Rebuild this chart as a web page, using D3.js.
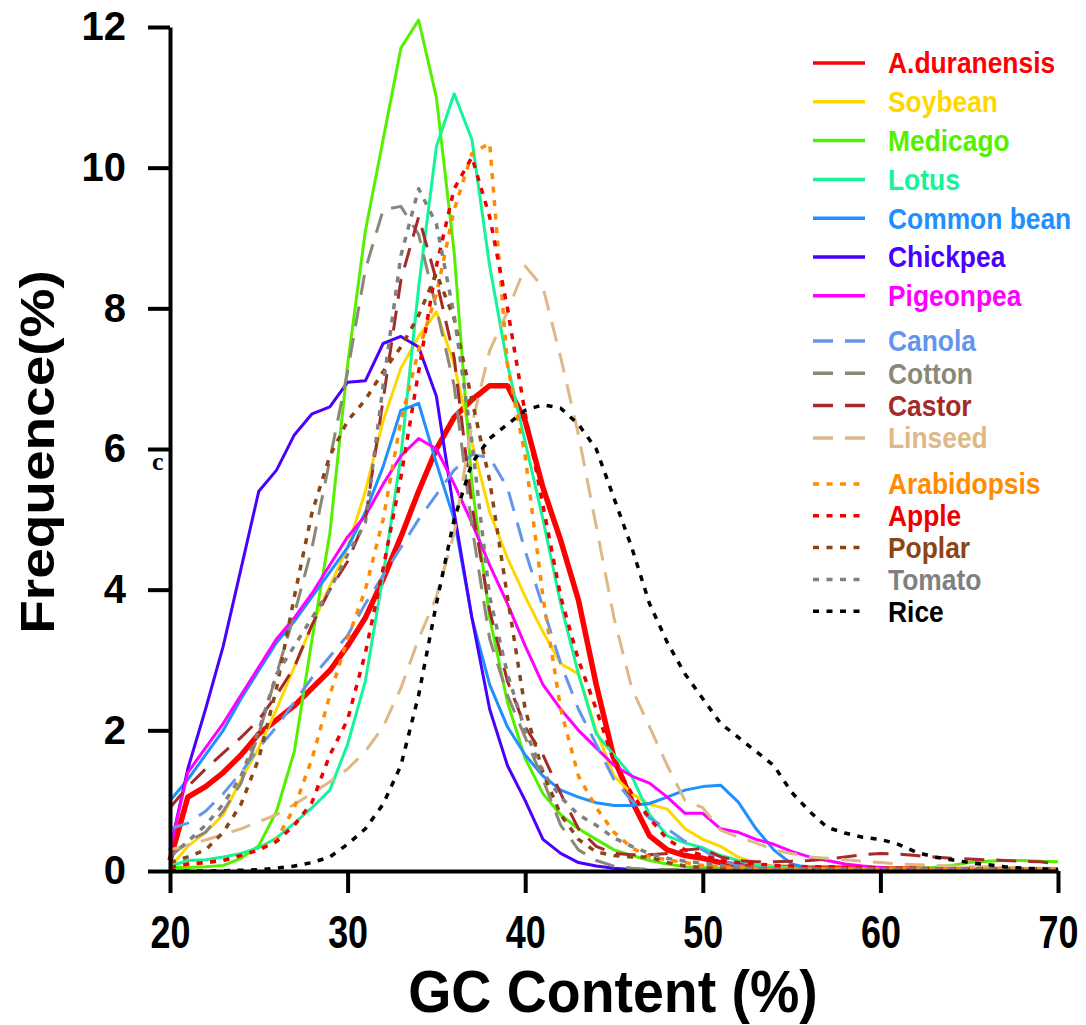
<!DOCTYPE html>
<html>
<head>
<meta charset="utf-8">
<script src="https://cdn.jsdelivr.net/npm/d3@7"></script>
<style>
  body { margin: 0; background: #fff; }
  text { font-family: "Liberation Sans", Arial, sans-serif; font-weight: bold; }
</style>
</head>
<body>
<svg id="chart" width="1086" height="1025"></svg>
<script>
// GC content bins, 1% wide
const gc = d3.range(20, 71);

const species = ["A.duranensis", "Soybean", "Medicago", "Lotus", "Common bean", "Chickpea", "Pigeonpea",
  "Canola", "Cotton", "Castor", "Linseed", "Arabidopsis", "Apple", "Poplar", "Tomato", "Rice"];

const aDuranensis = [0.15, 1.05, 1.2, 1.4, 1.65, 1.95, 2.15, 2.35, 2.6, 2.85, 3.2, 3.6, 4.15, 4.75, 5.4, 6.0, 6.45, 6.7, 6.9, 6.9,
  6.4, 5.45, 4.7, 3.85, 2.65, 1.6, 1.0, 0.5, 0.3, 0.22, 0.18, 0.12, 0.08, 0.06, 0.05, 0.05, 0.04, 0.04, 0.04, 0.03,
  0.03, 0.03, 0.03, 0.02, 0.02, 0.02, 0.02, 0.02, 0.01, 0.01, 0.01];
const soybean = [0.05, 0.35, 0.55, 0.8, 1.3, 1.75, 2.3, 2.9, 3.5, 4.05, 4.6, 5.4, 6.4, 7.15, 7.6, 7.95, 7.2, 6.1, 5.1, 4.45,
  3.9, 3.4, 2.95, 2.8, 2.0, 1.35, 1.1, 0.95, 0.88, 0.6, 0.45, 0.35, 0.2, 0.1, 0.06, 0.05, 0.04, 0.03, 0.03, 0.03,
  0.03, 0.03, 0.03, 0.03, 0.03, 0.03, 0.03, 0.03, 0.03, 0.03, 0.03];
const medicago = [0.05, 0.05, 0.06, 0.08, 0.18, 0.36, 0.85, 1.7, 3.3, 4.8, 7.2, 9.1, 10.4, 11.7, 12.1, 11.0, 8.8, 5.5, 3.6, 2.4,
  1.6, 1.1, 0.8, 0.6, 0.45, 0.3, 0.22, 0.15, 0.1, 0.06, 0.05, 0.04, 0.04, 0.04, 0.04, 0.04, 0.04, 0.04, 0.04, 0.04,
  0.04, 0.04, 0.04, 0.05, 0.08, 0.12, 0.14, 0.15, 0.15, 0.14, 0.13];
const lotus = [0.07, 0.15, 0.16, 0.2, 0.25, 0.33, 0.47, 0.68, 0.9, 1.15, 1.8, 2.7, 4.2, 5.9, 8.3, 10.3, 11.05, 10.4, 8.6, 7.2,
  6.1, 5.0, 3.8, 2.8, 1.95, 1.65, 1.35, 0.8, 0.5, 0.4, 0.33, 0.22, 0.15, 0.08, 0.05, 0.04, 0.03, 0.03, 0.03, 0.03,
  0.03, 0.03, 0.03, 0.03, 0.03, 0.03, 0.02, 0.02, 0.02, 0.02, 0.02];
const commonBean = [1.0, 1.3, 1.65, 2.0, 2.45, 2.85, 3.25, 3.55, 3.9, 4.25, 4.6, 5.1, 5.75, 6.55, 6.65, 5.8, 5.0, 3.6, 2.65, 2.05,
  1.65, 1.35, 1.15, 1.05, 0.97, 0.93, 0.93, 0.96, 1.05, 1.15, 1.2, 1.22, 0.98, 0.6, 0.3, 0.1, 0.04, 0.03, 0.02, 0.02,
  0.02, 0.02, 0.02, 0.02, 0.02, 0.02, 0.02, 0.02, 0.02, 0.02, 0.02];
const chickpea = [0.3, 1.45, 2.3, 3.2, 4.3, 5.4, 5.7, 6.2, 6.5, 6.6, 6.95, 6.97, 7.5, 7.6, 7.45, 6.75, 5.1, 3.6, 2.3, 1.5,
  1.0, 0.45, 0.25, 0.12, 0.07, 0.04, 0.02, 0.01, 0.01, 0.01, 0.01, 0.01, 0.01, 0.01, 0.01, 0.01, 0.01, 0.01, 0.01, 0.01,
  0.01, 0.01, 0.01, 0.01, 0.01, 0.01, 0.01, 0.01, 0.01, 0.01, 0.01];
const pigeonpea = [0.3, 1.4, 1.75, 2.1, 2.5, 2.9, 3.3, 3.6, 3.95, 4.35, 4.75, 5.05, 5.5, 5.9, 6.15, 6.0, 5.5, 4.95, 4.35, 3.8,
  3.2, 2.65, 2.3, 2.0, 1.75, 1.5, 1.35, 1.25, 1.05, 0.82, 0.82, 0.6, 0.55, 0.45, 0.38, 0.28, 0.2, 0.15, 0.1, 0.07,
  0.05, 0.03, 0.03, 0.03, 0.03, 0.03, 0.03, 0.03, 0.03, 0.03, 0.03];
const canola = [0.6, 0.68, 0.85, 1.1, 1.4, 1.75, 2.05, 2.4, 2.75, 3.05, 3.35, 3.8, 4.2, 4.6, 5.0, 5.35, 5.7, 5.92, 5.88, 5.45,
  4.55, 3.75, 2.95, 2.3, 1.8, 1.3, 1.0, 0.75, 0.6, 0.42, 0.3, 0.15, 0.08, 0.05, 0.03, 0.03, 0.03, 0.03, 0.03, 0.03,
  0.03, 0.03, 0.03, 0.03, 0.03, 0.03, 0.03, 0.03, 0.03, 0.03, 0.03];
const cotton = [0.2, 0.42, 0.55, 0.85, 1.25, 1.95, 2.8, 3.65, 4.6, 5.85, 7.1, 8.55, 9.4, 9.45, 9.05, 8.0, 6.9, 4.9, 3.3, 2.5,
  1.9, 1.3, 0.65, 0.3, 0.15, 0.07, 0.04, 0.02, 0.02, 0.02, 0.02, 0.02, 0.02, 0.02, 0.02, 0.02, 0.02, 0.02, 0.02, 0.02,
  0.02, 0.02, 0.02, 0.02, 0.02, 0.02, 0.02, 0.02, 0.02, 0.02, 0.02];
const castor = [0.9, 1.2, 1.45, 1.68, 1.9, 2.15, 2.5, 2.9, 3.5, 4.0, 4.4, 5.0, 6.7, 8.4, 9.3, 8.4, 7.3, 5.2, 3.7, 2.7,
  2.05, 1.65, 1.1, 0.6, 0.35, 0.25, 0.23, 0.23, 0.25, 0.3, 0.32, 0.2, 0.15, 0.13, 0.13, 0.14, 0.15, 0.17, 0.2, 0.23,
  0.25, 0.24, 0.22, 0.2, 0.18, 0.17, 0.16, 0.15, 0.14, 0.13, 0.1];
const linseed = [0.3, 0.37, 0.44, 0.52, 0.6, 0.7, 0.8, 0.95, 1.1, 1.27, 1.45, 1.7, 2.05, 2.6, 3.3, 3.9, 4.8, 6.35, 7.4, 7.95,
  8.6, 8.3, 7.3, 6.2, 4.9, 3.6, 2.6, 2.05, 1.5, 1.0, 0.9, 0.58, 0.48, 0.4, 0.3, 0.25, 0.2, 0.18, 0.16, 0.14,
  0.12, 0.1, 0.09, 0.08, 0.07, 0.06, 0.06, 0.05, 0.05, 0.04, 0.04];
const arabidopsis = [0.05, 0.08, 0.12, 0.15, 0.22, 0.3, 0.45, 0.9, 1.6, 2.5, 3.3, 4.0, 5.0, 6.4, 7.4, 8.2, 9.4, 10.2, 10.35, 7.2,
  5.9, 3.9, 2.3, 1.35, 0.9, 0.55, 0.33, 0.2, 0.16, 0.12, 0.08, 0.06, 0.05, 0.03, 0.03, 0.03, 0.03, 0.03, 0.03, 0.03,
  0.03, 0.03, 0.03, 0.03, 0.03, 0.03, 0.03, 0.03, 0.03, 0.03, 0.03];
const apple = [0.05, 0.1, 0.12, 0.15, 0.22, 0.3, 0.42, 0.65, 0.98, 1.65, 2.15, 3.1, 4.3, 5.6, 7.1, 8.6, 9.7, 10.15, 9.3, 8.0,
  6.5, 5.2, 3.9, 3.0, 2.3, 1.55, 1.1, 0.75, 0.45, 0.3, 0.22, 0.15, 0.12, 0.1, 0.08, 0.07, 0.06, 0.06, 0.05, 0.05,
  0.04, 0.04, 0.04, 0.03, 0.03, 0.03, 0.03, 0.02, 0.02, 0.02, 0.02];
const poplar = [0.12, 0.2, 0.3, 0.55, 0.95, 1.6, 2.6, 3.9, 5.1, 5.9, 6.4, 6.7, 7.1, 7.45, 7.9, 8.5, 7.85, 6.7, 5.55, 3.9,
  2.3, 1.4, 0.8, 0.45, 0.27, 0.22, 0.2, 0.2, 0.12, 0.07, 0.05, 0.03, 0.03, 0.03, 0.03, 0.03, 0.03, 0.03, 0.03, 0.03,
  0.03, 0.03, 0.03, 0.03, 0.03, 0.03, 0.03, 0.03, 0.03, 0.03, 0.03];
const tomato = [0.2, 0.42, 0.65, 0.95, 1.35, 2.0, 2.8, 3.2, 3.6, 4.0, 4.5, 4.95, 6.9, 8.75, 9.7, 9.2, 7.9, 6.1, 3.9, 2.8,
  2.0, 1.4, 1.05, 0.8, 0.65, 0.47, 0.35, 0.25, 0.18, 0.14, 0.11, 0.08, 0.05, 0.03, 0.03, 0.03, 0.03, 0.03, 0.03, 0.03,
  0.03, 0.03, 0.03, 0.03, 0.03, 0.03, 0.03, 0.03, 0.03, 0.03, 0.03];
const rice = [0, 0, 0, 0.005, 0.01, 0.02, 0.04, 0.07, 0.12, 0.2, 0.38, 0.6, 0.95, 1.5, 2.5, 3.8, 5.0, 5.8, 6.15, 6.35,
  6.55, 6.63, 6.58, 6.35, 6.0, 5.3, 4.6, 3.8, 3.25, 2.8, 2.45, 2.1, 1.9, 1.7, 1.5, 1.12, 0.85, 0.62, 0.54, 0.48,
  0.45, 0.38, 0.27, 0.2, 0.16, 0.12, 0.09, 0.06, 0.04, 0.03, 0.02];

const seriesValues = [aDuranensis, soybean, medicago, lotus, commonBean, chickpea, pigeonpea,
  canola, cotton, castor, linseed, arabidopsis, apple, poplar, tomato, rice];

const colors = ["#ff0000", "#ffd700", "#55f000", "#14f59a", "#1e90ff", "#4a00ff", "#ff00ff",
  "#6495ed", "#8b8878", "#a52a2a", "#deb887", "#ff8c00", "#ee0000", "#8b4513", "#808080", "#000000"];
// 0 solid, 1 dashed, 2 dotted (also the legend block)
const lineKind = [0, 0, 0, 0, 0, 0, 0, 1, 1, 1, 1, 2, 2, 2, 2, 2];

const xTicks = [20, 30, 40, 50, 60, 70];
const yTicks = [0, 2, 4, 6, 8, 10, 12];

const svg = d3.select("#chart");
svg.append("rect").attr("width", 1086).attr("height", 1025).attr("fill", "#fff");

const x = d3.scaleLinear().domain([20, 70]).range([170, 1058]);
const y = d3.scaleLinear().domain([0, 12]).range([871, 27]);

const dashes = [null, "20,12", "6,7.5"];
const widths = [3, 3, 3.5];

const line = d3.line().x((d, i) => x(gc[i])).y(d => y(d));

svg.append("g").selectAll("path")
  .data(seriesValues)
  .join("path")
  .attr("d", line)
  .attr("fill", "none")
  .attr("stroke", (d, i) => colors[i])
  .attr("stroke-width", (d, i) => i === 0 ? 5.5 : widths[lineKind[i]])
  .attr("stroke-dasharray", (d, i) => dashes[lineKind[i]])
  .attr("stroke-linejoin", "round");

// axes
const xAxis = svg.append("g")
  .attr("transform", "translate(0,871)")
  .call(d3.axisBottom(x).tickValues(xTicks).tickSize(22).tickSizeOuter(0).tickPadding(22));
const yAxis = svg.append("g")
  .attr("transform", "translate(170,0)")
  .call(d3.axisLeft(y).tickValues(yTicks).tickSize(22).tickSizeOuter(0).tickPadding(22));

[xAxis, yAxis].forEach(a => {
  a.select(".domain").attr("stroke", "#000").attr("stroke-width", 4);
  a.selectAll(".tick line").attr("stroke", "#000").attr("stroke-width", 4);
  a.selectAll(".tick text").attr("fill", "#000");
});
xAxis.selectAll(".tick text")
  .style("font-size", "46px")
  .attr("transform", "scale(0.78,1)");
yAxis.selectAll(".tick text")
  .style("font-size", "40px");

// stray glyph left of the axis in the original
svg.append("text")
  .attr("x", 152).attr("y", 470)
  .style("font-family", "'Liberation Serif', serif")
  .style("font-size", "26px")
  .text("c");

// axis titles
svg.append("text")
  .attr("transform", "translate(613,1012) scale(0.94,1)")
  .attr("text-anchor", "middle")
  .style("font-size", "59px")
  .text("GC Content (%)");
svg.append("text")
  .attr("transform", "translate(54,452) rotate(-90) scale(1,0.88)")
  .attr("text-anchor", "middle")
  .style("font-size", "55px")
  .text("Frequence(%)");

// legend
const groupTop = [63, 341, 484];
const groupStep = [38.8, 32.3, 31.8];
const legendY = species.map((s, i) => {
  const g = lineKind[i];
  const first = lineKind.indexOf(g);
  return groupTop[g] + (i - first) * groupStep[g];
});

const legend = svg.append("g").selectAll("g")
  .data(species)
  .join("g")
  .attr("transform", (d, i) => `translate(813,${legendY[i]})`);

legend.append("line")
  .attr("x1", 0).attr("x2", (d, i) => lineKind[i] === 2 ? 49 : 52)
  .attr("stroke", (d, i) => colors[i])
  .attr("stroke-width", 3.5)
  .attr("stroke-dasharray", (d, i) => dashes[lineKind[i]]);

legend.append("text")
  .attr("transform", "translate(75,0) scale(0.91,1)")
  .attr("dy", "0.36em")
  .style("font-size", "29px")
  .attr("fill", (d, i) => colors[i])
  .text(d => d);
</script>
</body>
</html>
